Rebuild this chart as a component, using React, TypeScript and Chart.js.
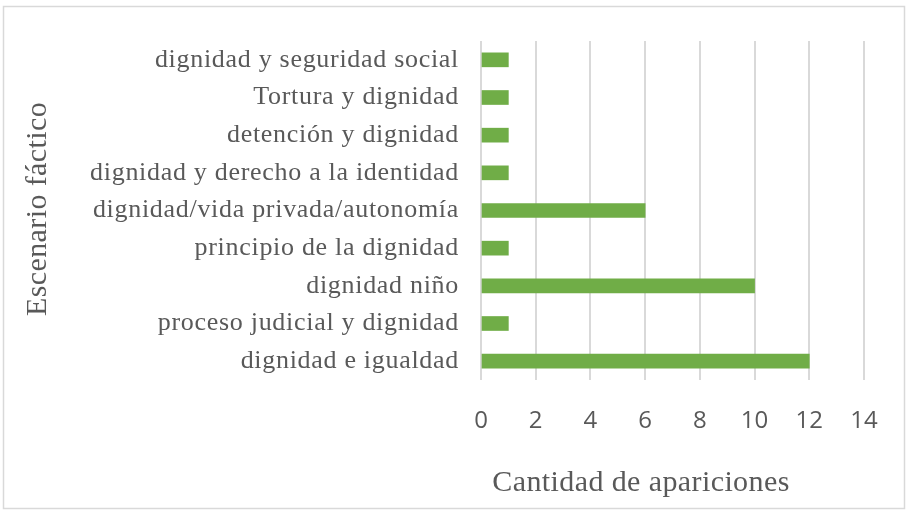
import React, { useEffect, useRef } from "react";
import { Chart, registerables } from "chart.js";

Chart.register(...registerables);

const categories = [
  "dignidad y seguridad social",
  "Tortura y dignidad",
  "detención y dignidad",
  "dignidad y derecho a la identidad",
  "dignidad/vida privada/autonomía",
  "principio de la dignidad",
  "dignidad niño",
  "proceso judicial y dignidad",
  "dignidad e igualdad",
];
const values = [1, 1, 1, 1, 6, 1, 10, 1, 12];
const xMin = 0;
const xMax = 14;
const xStep = 2;
const xTitle = "Cantidad de apariciones";
const yTitle = "Escenario fáctico";

const TEXT = "#595959";
const SERIF = '"Liberation Serif", "Times New Roman", serif';

const decorPlugin = {
  id: "decor",
  beforeDraw(chart: any) {
    const ctx = chart.ctx;
    ctx.save();
    ctx.strokeStyle = "#d9d9d9";
    ctx.lineWidth = 1.5;
    ctx.strokeRect(3.5, 6.5, 901, 502);
    ctx.restore();
  },
  afterDatasetsDraw(chart: any) {
    (chart.ctx as any).letterSpacing = "0.7px";
  },
  afterDraw(chart: any) {
    const ctx = chart.ctx as any;
    ctx.letterSpacing = "0px";
    ctx.save();
    ctx.fillStyle = TEXT;
    ctx.font = `30px ${SERIF}`;
    ctx.letterSpacing = "0.4px";
    ctx.textAlign = "center";
    ctx.textBaseline = "middle";
    ctx.fillText(xTitle, 641, 483);
    ctx.translate(38, 209);
    ctx.rotate(-Math.PI / 2);
    ctx.fillText(yTitle, 0, 0);
    ctx.restore();
  },
};

export default function App() {
  const ref = useRef<HTMLCanvasElement | null>(null);
  useEffect(() => {
    if (!ref.current) return;
    const chart = new Chart(ref.current, {
      type: "bar",
      data: {
        labels: categories,
        datasets: [
          {
            data: values,
            backgroundColor: "#70AD47",
            borderWidth: 0,
            barThickness: 14,
          },
        ],
      },
      options: {
        indexAxis: "y",
        animation: false,
        responsive: false,
        layout: { padding: { left: 0, top: 41, right: 43, bottom: 0 } },
        plugins: { legend: { display: false }, tooltip: { enabled: false } },
        scales: {
          x: {
            type: "linear",
            min: xMin,
            max: xMax,
            ticks: {
              stepSize: xStep,
              color: TEXT,
              font: { family: '"Open Sans", sans-serif', size: 24 },
              padding: 27,
              maxRotation: 0,
            },
            grid: { color: "#d9d9d9", lineWidth: 2, drawTicks: false },
            border: { display: false },
            afterFit: (s: any) => {
              s.height = 132;
            },
          },
          y: {
            type: "category",
            ticks: {
              color: TEXT,
              font: { family: SERIF, size: 26 },
              padding: 22,
              z: 1,
            },
            grid: { display: false, drawTicks: false },
            border: { display: false },
            afterFit: (s: any) => {
              s.width = 481;
            },
          },
        },
      } as any,
      plugins: [decorPlugin],
    });
    return () => chart.destroy();
  }, []);
  return (
    <canvas
      ref={ref}
      width={907}
      height={512}
      style={{ position: "absolute", left: 0, top: 0, width: 907, height: 512 }}
    />
  );
}
